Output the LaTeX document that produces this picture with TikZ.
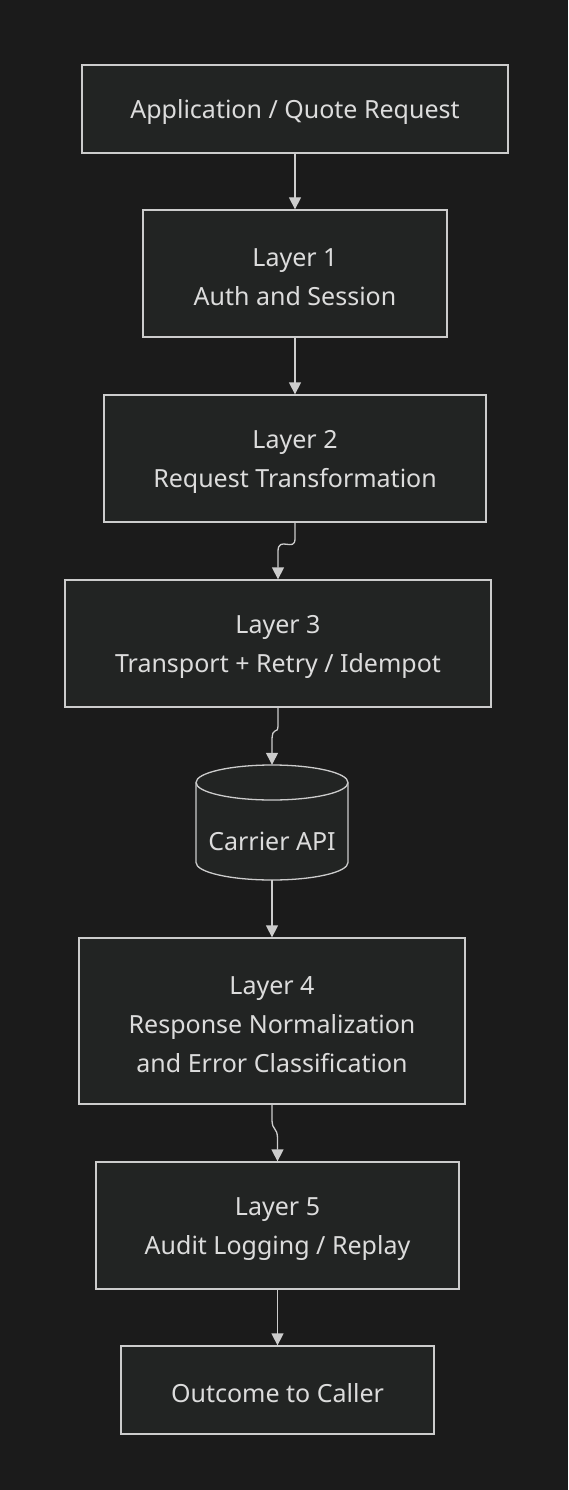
\documentclass[tikz,border=0pt]{standalone}
\usepackage{fontspec}
\setmainfont{Noto Sans}
\usetikzlibrary{arrows.meta}
\definecolor{bgc}{HTML}{1B1B1B}
\definecolor{boxfill}{HTML}{222423}
\definecolor{linec}{HTML}{CCCCCC}
\definecolor{txtc}{HTML}{DCDCDC}
\newcommand{\toppad}{\rule{0pt}{25pt}}
\begin{document}
\begin{tikzpicture}[x=1pt,y=1pt,
  box/.style={draw=linec, fill=boxfill, line width=1.3pt, inner sep=0pt, align=center,
    text=txtc, font=\fontsize{25}{39}\selectfont},
  conn/.style={draw=linec, line width=1.3pt, -{Triangle[width=12pt,length=12pt]}}]
\fill[bgc] (0,0) rectangle (568,-1490);
\useasboundingbox (0,0) rectangle (568,-1490);
\node[box, minimum width=426pt, minimum height=88pt] (app) at (295,-109) {\toppad Application / Quote Request};
\node[box, minimum width=304pt, minimum height=127pt] (l1) at (295,-273.5) {\toppad Layer 1\\Auth and Session};
\node[box, minimum width=382pt, minimum height=127pt] (l2) at (295,-458.5) {\toppad Layer 2\\Request Transformation};
\node[box, minimum width=426pt, minimum height=127pt] (l3) at (278,-643.5) {\toppad Layer 3\\Transport + Retry / Idempot};
% cylinder
\filldraw[draw=linec, fill=boxfill, line width=1.3pt]
  (196,-782.5) -- (196,-862.5) arc[start angle=180, end angle=360, x radius=76, y radius=17.5]
  -- (348,-782.5) arc[start angle=0, end angle=180, x radius=76, y radius=17.5] -- cycle;
\draw[linec, line width=1.3pt] (196,-782.5) arc[start angle=180, end angle=360, x radius=76, y radius=17.5];
\node[inner sep=0pt, minimum width=152pt, minimum height=115pt] (api) at (272,-822.5) {};
\node[text=txtc, font=\fontsize{25}{39}\selectfont, inner sep=0pt] (apilabel) at (272,-841) {Carrier API};
\node[box, minimum width=386pt, minimum height=166pt] (l4) at (272,-1021) {\toppad Layer 4\\Response Normalization\\and Error Classification};
\node[box, minimum width=363pt, minimum height=127pt] (l5) at (277.5,-1225.5) {\toppad Layer 5\\Audit Logging / Replay};
\node[box, minimum width=313pt, minimum height=88pt] (out) at (277.5,-1390) {\toppad Outcome to Caller};
% connectors
\draw[conn] (app.south) -- (l1.north);
\draw[conn] (l1.south) -- (l2.north);
\draw[conn] (l2.south) -- ++(0,-16) .. controls ++(0,-14) and ++(0,16) .. ([yshift=28pt]l3.north -| 278,0) -- (l3.north -| 278,0);
\draw[conn] (l3.south) -- ++(0,-18) .. controls ++(0,-10) and ++(0,16) .. ([yshift=24pt]api.north -| 272,0) -- (api.north -| 272,0);
\draw[conn] (api.south) -- (l4.north);
\draw[conn] (l4.south) -- ++(0,-14) .. controls ++(0,-14) and ++(0,14) .. ([yshift=22pt]l5.north) -- (l5.north);
\draw[conn] (l5.south) -- (out.north);
\end{tikzpicture}
\end{document}
